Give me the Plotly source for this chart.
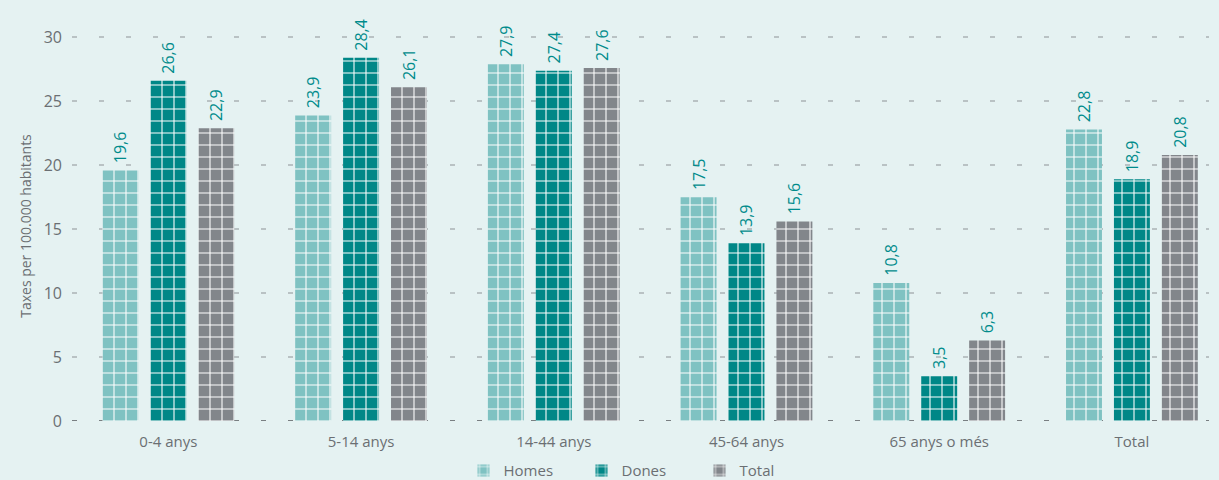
import plotly.graph_objects as go

categories = ["0-4 anys", "5-14 anys", "14-44 anys", "45-64 anys", "65 anys o més", "Total"]
homes = [19.6, 23.9, 27.9, 17.5, 10.8, 22.8]
dones = [26.6, 28.4, 27.4, 13.9, 3.5, 18.9]
total = [22.9, 26.1, 27.6, 15.6, 6.3, 20.8]

series = [
    ("Homes", homes, "#7fc2c2"),
    ("Dones", dones, "#008787"),
    ("Total", total, "#82868b"),
]

bg = "#e5f2f2"
grey = "#6b6f73"
label_col = "#008b8b"

fig = go.Figure()
for name, vals, col in series:
    fig.add_trace(
        go.Bar(
            x=categories,
            y=vals,
            name=name,
            marker=dict(
                color=col,
                line=dict(width=0),
                pattern=dict(
                    shape="+",
                    size=12,
                    solidity=0.17,
                    fgcolor="white",
                    bgcolor=col,
                    fillmode="replace",
                ),
            ),
            texttemplate="&nbsp;%{y:.1f}",
            textposition="outside",
            textangle=-90,
            constraintext="none",
            textfont=dict(color=label_col, size=16, family="Open Sans"),
            cliponaxis=False,
        )
    )

fig.add_hline(y=0, line=dict(color="#55595d", width=1.5, dash="5px,22px"), layer="below")

fig.update_layout(
    width=1219,
    height=480,
    barmode="group",
    bargap=0.254,
    bargroupgap=0.25,
    separators=",.",
    paper_bgcolor=bg,
    plot_bgcolor=bg,
    margin=dict(l=72, r=10, t=31, b=59, autoexpand=False),
    font=dict(family="Open Sans", color=grey, size=14),
    legend=dict(
        orientation="h",
        x=0.5,
        xanchor="center",
        y=-0.17,
        yanchor="bottom",
        font=dict(size=15, color=grey),
        itemwidth=30,
        entrywidth=73,
        bgcolor="rgba(0,0,0,0)",
    ),
    showlegend=True,
)

fig.update_xaxes(
    range=[-0.5, 5.4],
    showgrid=False,
    showline=False,
    ticks="",
    ticklabelstandoff=10,
    tickfont=dict(size=15, color=grey),
)
fig.update_yaxes(
    range=[0, 30.5],
    tickvals=[0, 5, 10, 15, 20, 25, 30],
    showgrid=True,
    gridcolor="#b9c2c4",
    griddash="5px,22px",
    gridwidth=1.5,
    zeroline=False,
    showline=False,
    ticks="",
    ticklabelstandoff=9,
    tickfont=dict(size=16, color=grey),
    title=dict(text="Taxes per 100.000 habitants", font=dict(size=14, color=grey), standoff=8),
)

fig.write_html(
    "out.html",
    config={"displayModeBar": False},
    post_script="document.body.style.margin='0';document.body.style.background='#e5f2f2';",
)
